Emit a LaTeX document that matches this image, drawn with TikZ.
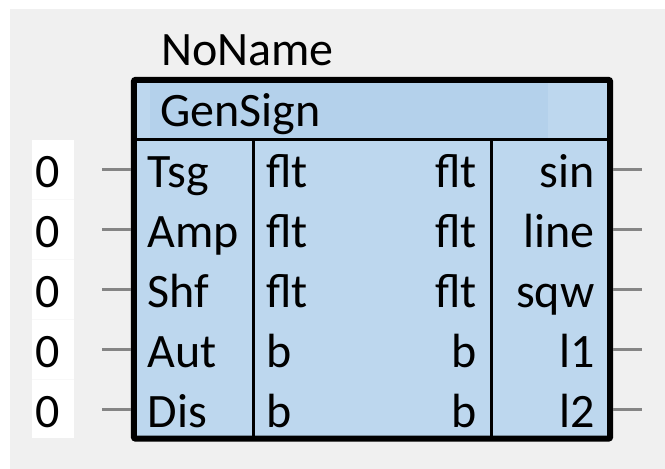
\documentclass[tikz,border=0pt]{standalone}
\usepackage{fontspec}
\setmainfont{Carlito}
\definecolor{bggray}{HTML}{F0F0F0}
\definecolor{bodyblue}{HTML}{BDD7EE}
\definecolor{headblue}{HTML}{B4D1EB}
\definecolor{pingray}{HTML}{858585}
\definecolor{cellsep}{HTML}{F8F8F8}
\tikzset{
  lbl/.style={inner sep=0pt, outer sep=0pt, font=\fontsize{48}{57}\selectfont, text=black},
  lft/.style={lbl, anchor=base west},
  rgt/.style={lbl, anchor=base east},
  pin/.style={draw=pingray, line width=3pt},
  colline/.style={draw=black, line width=3pt},
  frame/.style={draw=black, line width=6pt, rounded corners=2pt},
}
\begin{document}
\begin{tikzpicture}[x=1pt,y=-1pt]
\useasboundingbox (0,0) rectangle (665,469);
\fill[white] (0,0) rectangle (665,469);
\fill[bggray] (10,9) rectangle (665,469);
% white value strip
\fill[white] (32,140) rectangle (74,438);
\foreach \yy in {199,259,319,379} \draw[cellsep, line width=1pt] (32,\yy) -- (74,\yy);
% block fills
\fill[bodyblue] (134,80) rectangle (610,438.5);
\fill[headblue] (150,83) rectangle (548,139);
% block frame and lines
\node[draw=none, inner sep=0pt, minimum width=476pt, minimum height=358.5pt] (blk) at (372,259.25) {};
\coordinate (hl) at (134,139.5);
\coordinate (hr) at (610,139.5);
\draw[colline] (hl) -- (hr);
\coordinate (c1t) at (253.5,139.5);
\coordinate (c1b) at (253.5,438.5);
\coordinate (c2t) at (491,139.5);
\coordinate (c2b) at (491,438.5);
\draw[colline] (c1t) -- (c1b);
\draw[colline] (c2t) -- (c2b);
\draw[frame] (blk.north west) rectangle (blk.south east);
% title
\node[lft] (noname) at (161,65.5) {NoName};
\node[lft] (gensign) at (160,126.5) {GenSign};
% rows
\foreach \i/\pinname/\tin/\tout/\outname in {1/Tsg/flt/flt/sin, 2/Amp/flt/flt/line, 3/Shf/flt/flt/sqw, 4/Aut/b/b/l1, 5/Dis/b/b/l2}{
  \pgfmathsetmacro{\py}{169+60*(\i-1)}
  \pgfmathsetmacro{\by}{\py+18}
  \node[lft] (val\i) at (35.5,\by) {0};
  \node[lft] (in\i) at (147.5,\by) {\pinname};
  \node[lft] (tin\i) at (266,\by) {\tin};
  \node[rgt] (tout\i) at (476.5,\by) {\tout};
  \node[rgt] (out\i) at (594.5,\by) {\outname};
  \coordinate (pl\i) at (102,\py);
  \coordinate (plb\i) at (131,\py);
  \coordinate (prb\i) at (613,\py);
  \coordinate (pr\i) at (642,\py);
  \draw[pin] (pl\i) -- (plb\i);
  \draw[pin] (prb\i) -- (pr\i);
}
\end{tikzpicture}
\end{document}
